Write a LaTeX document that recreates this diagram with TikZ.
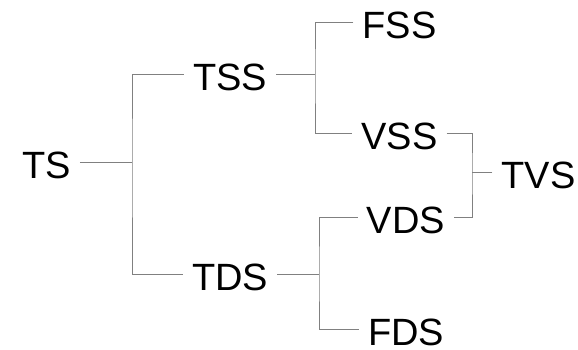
\documentclass[tikz,border=0pt]{standalone}
\usepackage{fontspec}
\setmainfont{Liberation Sans}
\begin{document}
\begin{tikzpicture}[x=1pt,y=-1pt,
  lbl/.style={inner xsep=9pt, inner ysep=0pt, text height=32pt, text depth=0pt,
    font=\fontsize{38}{40}\selectfont, anchor=center},
  conn/.style={draw=black!50, line width=0.9pt}]
\useasboundingbox (0,0) rectangle (578,349);
\node[lbl] (TS)  at (46.5,162) {TS};
\node[lbl] (TSS) at (230,74.5) {TSS};
\node[lbl] (TDS) at (230,274.5) {TDS};
\node[lbl] (FSS) at (399.5,22) {FSS};
\node[lbl] (VSS) at (399.5,133) {VSS};
\node[lbl] (VDS) at (406,217) {VDS};
\node[lbl] (FDS) at (406,329) {FDS};
\node[lbl] (TVS) at (538.5,172) {TVS};
\coordinate (j1) at (132,162);
\coordinate (j2) at (315,74.5);
\coordinate (j3) at (319,274.5);
\coordinate (j4) at (472,172);
\draw[conn] (TS.east) -- (j1);
\draw[conn] (TSS.west) -| (j1) |- (TDS.west);
\draw[conn] (TSS.east) -- (j2);
\draw[conn] (FSS.west) -| (j2) |- (VSS.west);
\draw[conn] (TDS.east) -- (j3);
\draw[conn] (VDS.west) -| (j3) |- (FDS.west);
\draw[conn] (TVS.west) -- (j4);
\draw[conn] (VSS.east) -| (j4) |- (VDS.east);
\end{tikzpicture}
\end{document}
